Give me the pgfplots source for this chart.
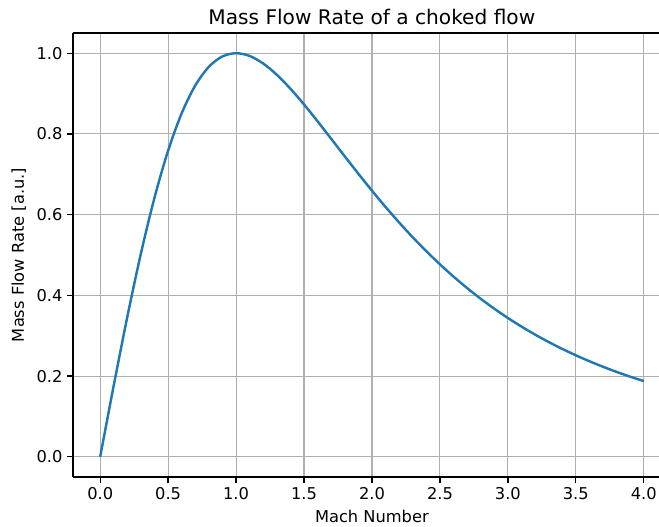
\documentclass[border=0pt]{standalone}
\usepackage{fontspec}
\setmainfont{DejaVu Sans}
\usepackage{pgfplots}
\pgfplotsset{compat=1.18}
\definecolor{mplblue}{HTML}{1F77B4}
\definecolor{gridgray}{HTML}{B0B0B0}
\begin{document}
\begin{tikzpicture}
\begin{axis}[
  at={(0,0)}, anchor=south west,
  scale only axis, width=421.92pt, height=319.68pt,
  xmin=-0.2, xmax=4.112, ymin=-0.05, ymax=1.05,
  axis y line*=left,
  axis line style={-, black, line width=0.94pt},
  xtick={0,0.5,...,4}, ytick={0,0.2,0.4,0.6,0.8,1.0},
  xtick pos=bottom, ytick pos=left,
  tick align=outside, major tick length=4.1pt,
  tick style={black, line width=0.94pt},
  grid=major, major grid style={gridgray, line width=0.8pt},
  /pgf/number format/assume math mode=true,
  xticklabel style={/pgf/number format/.cd, fixed, fixed zerofill, precision=1},
  yticklabel style={/pgf/number format/.cd, fixed, fixed zerofill, precision=1},
  ticklabel style={font=\fontsize{11.7}{14}\selectfont},
  title={Mass Flow Rate of a choked flow},
  every axis title shift=0pt,
  title style={font=\fontsize{14.5}{17}\selectfont, at={(axis description cs:0.51,1)}, anchor=base, yshift=5.8pt},
  xlabel={Mach Number},
  xlabel style={font=\fontsize{11.7}{14}\selectfont, at={(axis description cs:0.51,0)}, anchor=base, yshift=-32.4pt},
  ylabel={Mass Flow Rate [a.u.]},
  ylabel style={font=\fontsize{11.7}{14}\selectfont, at={(axis description cs:-0.0837,0.5)}, anchor=base},
]
\addplot[mplblue, line width=1.75pt, smooth, tension=0.5] coordinates {
(0.0,0.0) (0.05,0.0890) (0.1,0.17720) (0.2,0.34735) (0.3,0.50411) (0.4,0.64236)
(0.5,0.75870) (0.6,0.85136) (0.7,0.92020) (0.8,0.96640) (0.9,0.99209)
(1.0,1.0) (1.1,0.99309) (1.2,0.97433) (1.3,0.94649) (1.4,0.91193)
(1.5,0.87292) (1.6,0.83109) (1.7,0.78785) (1.8,0.74432) (1.9,0.70129)
(2.0,0.65938) (2.1,0.61898) (2.2,0.58043) (2.3,0.54383) (2.4,0.50930)
(2.5,0.47685) (2.6,0.44645) (2.7,0.41807) (2.8,0.39158) (2.9,0.36691)
(3.0,0.34401) (3.1,0.32268) (3.2,0.30288) (3.3,0.28449) (3.4,0.26741)
(3.5,0.25155) (3.6,0.23681) (3.7,0.22311) (3.8,0.21037) (3.9,0.19851)
(4.0,0.18770)
};
\end{axis}
\pgfresetboundingbox
\path[use as bounding box] (-52.56pt,-35.28pt) rectangle (421.92pt,343.44pt);
\end{tikzpicture}
\end{document}
